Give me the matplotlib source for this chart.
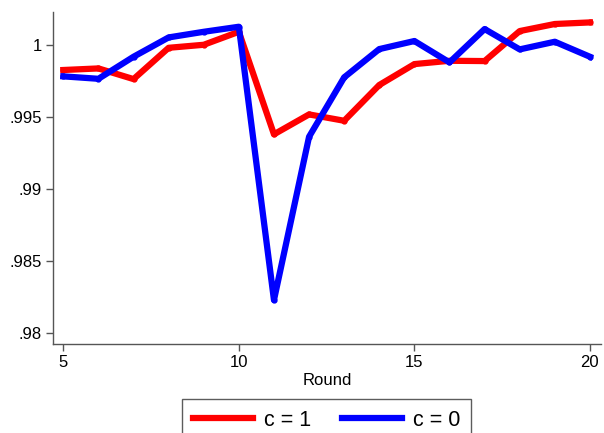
import matplotlib.pyplot as plt
import matplotlib.ticker as ticker

plt.rcParams['font.family'] = ['Liberation Sans', 'DejaVu Sans']

# Mean share by round for the two groups
rounds = list(range(5, 21))
share_c1 = [0.99827, 0.99838, 0.99764, 0.99981, 1.00002, 1.00092, 0.99381, 0.99519,
            0.99475, 0.99723, 0.99868, 0.99891, 0.99889, 1.00097, 1.00146, 1.00157]
share_c0 = [0.99783, 0.99766, 0.99919, 1.00053, 1.00092, 1.00127, 0.98232, 0.99364,
            0.99776, 0.99972, 1.00028, 0.99880, 1.00111, 0.99970, 1.00023, 0.99919]
y_ticks = [0.98, 0.985, 0.99, 0.995, 1.0]
y_labels = ['.98', '.985', '.99', '.995', '1']

fig = plt.figure(figsize=(6.04, 4.33), dpi=100)
ax = fig.add_axes([0.0877, 0.2062, 0.907, 0.766])

ax.plot(rounds, share_c1, color='#ff0000', lw=4.5, marker='o', ms=3.5,
        solid_joinstyle='round', label='c = 1')
ax.plot(rounds, share_c0, color='#0000ff', lw=4.5, marker='o', ms=3.5,
        solid_joinstyle='round', label='c = 0')

ax.set_xlim(4.705, 20.31)
ax.set_ylim(0.97929, 1.00229)
ax.xaxis.set_major_locator(ticker.MultipleLocator(5))
ax.set_yticks(y_ticks)
ax.set_yticklabels(y_labels)

for side in ['top', 'right']:
    ax.spines[side].set_visible(False)
for side in ['left', 'bottom']:
    ax.spines[side].set_color('#555555')
    ax.spines[side].set_linewidth(1.0)
ax.tick_params(axis='both', direction='out', length=5, width=1, color='#555555',
               labelsize=12, pad=3)

ax.set_xlabel('Round', fontsize=12, labelpad=2)

leg = fig.legend(loc='upper center', bbox_to_anchor=(0.5406, 0.0785), ncol=2,
                 fontsize=15.5, frameon=True, fancybox=False, handlelength=2.8,
                 handletextpad=0.5, columnspacing=1.45, borderpad=0.5,
                 borderaxespad=0)
leg.get_frame().set_edgecolor('#333333')
leg.get_frame().set_linewidth(1.0)
for line in leg.get_lines():
    line.set_marker('')

fig.savefig('out.png', dpi=100)
